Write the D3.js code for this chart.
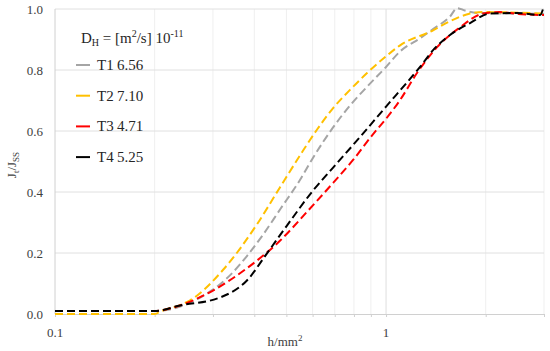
<!DOCTYPE html>
<html>
<head>
<meta charset="utf-8">
<script src="https://cdn.jsdelivr.net/npm/d3@7"></script>
<style>
  body { margin: 0; background: #fff; }
</style>
</head>
<body>
<svg id="chart" width="550" height="351" font-family="'Liberation Serif', 'DejaVu Serif', serif"></svg>
<script>
// series: h/mm² and Jt/Jss
const t1X = [0.1, 0.2, 0.24, 0.27, 0.30, 0.34, 0.38, 0.425, 0.48, 0.55, 0.60, 0.69, 0.78, 0.876, 1.0, 1.10, 1.27, 1.39, 1.56, 1.64, 1.73, 1.88, 3.0];
const t1Y = [0.01, 0.01, 0.025, 0.05, 0.08, 0.13, 0.19, 0.26, 0.345, 0.44, 0.51, 0.61, 0.685, 0.745, 0.81, 0.86, 0.905, 0.935, 0.975, 1.003, 0.995, 0.987, 0.984];

const t2X = [0.1, 0.2, 0.21, 0.24, 0.256, 0.322, 0.408, 0.478, 0.561, 0.619, 0.692, 0.795, 0.876, 1.0, 1.10, 1.387, 1.56, 1.794, 1.96, 3.0];
const t2Y = [0.0, 0.0, 0.01, 0.03, 0.045, 0.145, 0.295, 0.415, 0.535, 0.605, 0.675, 0.745, 0.79, 0.845, 0.88, 0.93, 0.96, 0.985, 0.99, 0.985];

const t3X = [0.1, 0.2, 0.2385, 0.30, 0.38, 0.478, 0.577, 0.692, 0.795, 0.914, 1.0, 1.1, 1.24, 1.426, 1.673, 1.963, 2.2, 2.5, 3.0];
const t3Y = [0.01, 0.01, 0.028, 0.077, 0.15, 0.24, 0.335, 0.43, 0.505, 0.59, 0.64, 0.70, 0.79, 0.875, 0.94, 0.985, 0.99, 0.984, 0.98];

const t4X = [0.1, 0.2, 0.2385, 0.315, 0.38, 0.437, 0.502, 0.602, 0.692, 0.834, 1.0, 1.18, 1.267, 1.387, 1.56, 1.794, 2.06, 2.49, 2.92, 2.98];
const t4Y = [0.01, 0.01, 0.028, 0.054, 0.11, 0.199, 0.29, 0.405, 0.48, 0.58, 0.68, 0.77, 0.81, 0.865, 0.915, 0.954, 0.985, 0.987, 0.98, 1.0];

const seriesNames = ["T1", "T2", "T3", "T4"];
const dhValues = ["6.56", "7.10", "4.71", "5.25"];
const seriesColors = ["#a5a5a5", "#ffc000", "#ff0000", "#000000"];

const yTicks = [0, 0.2, 0.4, 0.6, 0.8, 1.0];
const xLabelTicks = [0.1, 1];
const xGridTicks = [0.2, 0.3, 0.4, 0.5, 0.6, 0.7, 0.8, 0.9, 1, 2, 3];

const svg = d3.select("#chart");
const margin = { left: 55, right: 6, top: 9, bottom: 37 };
const W = 550, H = 351;
const textColor = "#404040";

const x = d3.scaleLog().domain([0.1, 3]).range([margin.left, W - margin.right]);
const y = d3.scaleLinear().domain([0, 1]).range([H - margin.bottom, margin.top]);

// grid
svg.append("g").selectAll("line").data(xGridTicks).join("line")
  .attr("x1", d => x(d)).attr("x2", d => x(d))
  .attr("y1", y(0)).attr("y2", y(1))
  .attr("stroke", d => (d === 1 ? "#dedede" : "#efefef")).attr("stroke-width", 1);

svg.append("g").selectAll("line").data(yTicks.slice(1)).join("line")
  .attr("x1", x(0.1)).attr("x2", x(3))
  .attr("y1", d => y(d)).attr("y2", d => y(d))
  .attr("stroke", "#e0e0e0").attr("stroke-width", 1);

// axes lines
const xAxis = d3.axisBottom(x).tickValues(xGridTicks).tickSize(3).tickFormat("");
svg.append("g").attr("transform", `translate(0,${y(0)})`).call(xAxis)
  .call(g => g.select(".domain").attr("stroke", "#d0d0d0"))
  .call(g => g.selectAll(".tick line").attr("stroke", "#d0d0d0"));

svg.append("line").attr("x1", x(0.1)).attr("x2", x(0.1)).attr("y1", y(0)).attr("y2", y(1))
  .attr("stroke", "#d0d0d0");

// tick labels
svg.append("g").selectAll("text").data(yTicks).join("text")
  .attr("x", 43).attr("y", d => y(d) + 4.5)
  .attr("text-anchor", "end").attr("font-size", 13).attr("fill", textColor)
  .text(d => d3.format(".1f")(d));

svg.append("g").selectAll("text").data(xLabelTicks).join("text")
  .attr("x", d => x(d)).attr("y", 337)
  .attr("text-anchor", "middle").attr("font-size", 13).attr("fill", textColor)
  .text(d => d);

// axis titles
const xt = svg.append("text").attr("x", 285).attr("y", 346).attr("text-anchor", "middle")
  .attr("font-size", 13).attr("fill", textColor);
xt.append("tspan").text("h/mm");
xt.append("tspan").attr("dy", -5).attr("font-size", 9).text("2");

const yt = svg.append("text").attr("transform", "translate(16,165) rotate(-90)")
  .attr("text-anchor", "middle").attr("font-size", 13).attr("fill", textColor);
yt.append("tspan").text("J");
yt.append("tspan").attr("dy", 3).attr("font-size", 9).text("t");
yt.append("tspan").attr("dy", -3).text("/J");
yt.append("tspan").attr("dy", 3).attr("font-size", 9).text("SS");

// lines
const allX = [t1X, t2X, t3X, t4X];
const allY = [t1Y, t2Y, t3Y, t4Y];
const line = d3.line().x(d => x(d[0])).y(d => y(d[1])).curve(d3.curveMonotoneX);

allX.forEach((xs, i) => {
  const pts = xs.map((v, j) => [v, allY[i][j]]);
  svg.append("path").datum(pts)
    .attr("d", line)
    .attr("fill", "none")
    .attr("stroke", seriesColors[i])
    .attr("stroke-width", 2)
    .attr("stroke-dasharray", "8,4");
});

// legend
const lt = svg.append("text").attr("x", 81).attr("y", 43).attr("font-size", 15).attr("fill", "#262626");
lt.append("tspan").text("D");
lt.append("tspan").attr("dy", 3).attr("font-size", 10).text("H");
lt.append("tspan").attr("dy", -3).text(" = [m");
lt.append("tspan").attr("dy", -6).attr("font-size", 10).text("2");
lt.append("tspan").attr("dy", 6).text("/s] 10");
lt.append("tspan").attr("dy", -6).attr("font-size", 10).text("-11");

const leg = svg.append("g").selectAll("g").data(seriesNames).join("g")
  .attr("transform", (d, i) => `translate(76,${65 + i * 30.7})`);
leg.append("line").attr("x1", 0).attr("x2", 14).attr("y1", 0).attr("y2", 0)
  .attr("stroke", (d, i) => seriesColors[i]).attr("stroke-width", 2);
leg.append("text").attr("x", 21).attr("y", 5).attr("font-size", 15).attr("fill", "#262626").text(d => d);
leg.append("text").attr("x", 41).attr("y", 5).attr("font-size", 15).attr("fill", "#262626").text((d, i) => dhValues[i]);
</script>
</body>
</html>
